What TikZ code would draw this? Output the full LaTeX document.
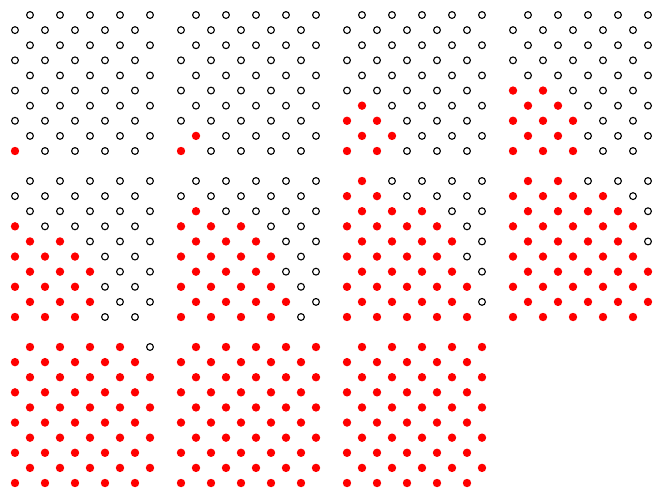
\documentclass[tikz,border=0pt]{standalone}
\begin{document}
\begin{tikzpicture}[x=1pt,y=1pt,
  opendot/.style={draw=black,line width=1.1pt,fill=white},
  reddot/.style={fill=red}]
\useasboundingbox (0,0) rectangle (656,-490);
\foreach \px/\py/\cnt in {
  0/0/{1,0,0,0,0,0,0,0,0,0},
  1/0/{1,1,0,0,0,0,0,0,0,0},
  2/0/{2,2,2,1,0,0,0,0,0,0},
  3/0/{3,2,3,2,2,0,0,0,0,0},
  0/1/{3,3,3,3,3,2,1,0,0,0},
  1/1/{4,4,4,3,4,3,3,1,0,0},
  2/1/{5,4,5,4,4,4,4,3,2,1},
  3/1/{5,5,5,5,5,4,5,4,4,2},
  0/2/{5,5,5,5,5,5,5,5,5,4},
  1/2/{5,5,5,5,5,5,5,5,5,5},
  2/2/{5,5,5,5,5,5,5,5,5,5}}{
  \foreach \k [count=\jj from 0] in \cnt {
    \foreach \i in {0,...,4}{
      \pgfmathsetmacro\xx{\px*166+15+30*\i+15*mod(\jj,2)}
      \pgfmathsetmacro\yy{-(\py*166+151-15.11*\jj)}
      \ifnum\i<\k\relax
        \fill[reddot] (\xx,\yy) circle (4.2pt);
      \else
        \draw[opendot] (\xx,\yy) circle (3.4pt);
      \fi
    }
  }
}
\end{tikzpicture}
\end{document}
